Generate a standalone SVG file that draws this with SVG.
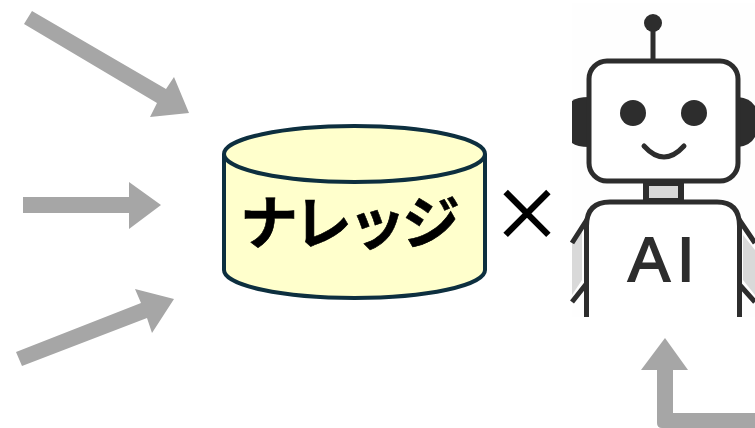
<svg xmlns="http://www.w3.org/2000/svg" width="755" height="428" viewBox="0 0 755 428">
<style>
.arrow{fill:#a6a6a6}
.ln{fill:none;stroke:#2d2d2d;stroke-width:5}
.dark{fill:#2d2d2d}
.cyl{fill:#ffffcc;stroke:#0d2f3f;stroke-width:4}
.cjk{font-family:"Noto Sans CJK JP","Noto Sans",sans-serif}
</style>
<rect width="755" height="428" fill="#ffffff"/>
<g id="connectors">
<polygon class="arrow" points="32,11 24,24 157,103 150,117 189,113 174,77 166,89"/>
<polygon class="arrow" points="23,197 129,197 129,182 161,205 129,229 129,213 23,213"/>
<polygon class="arrow" points="16,352 22,366 147,318 152,333 174,299 135,289 141,303"/>
<path class="arrow" d="M665,338 L688,370 L673,370 L673,413 L755,413 L755,428 L662,428 Q657,428 657,423 L657,370 L641,370 Z"/>
</g>
<g id="knowledge">
<path class="cyl" d="M224,154 V270 A130.500,28 0 0 0 485,270 V154"/>
<ellipse class="cyl" cx="354.500" cy="154" rx="130.500" ry="28"/>
<text class="cjk" x="348" y="244" font-size="58" font-weight="700" letter-spacing="-4" text-anchor="middle" fill="#000000" stroke="#000000" stroke-width="0.600">ナレッジ</text>
</g>
<g id="times">
<text class="cjk" x="527" y="240" font-size="70" text-anchor="middle" fill="#000000" stroke="#000000" stroke-width="1.500">×</text>
</g>
<g id="robot">
<rect x="572" y="3" width="183" height="314" fill="#fefefe"/>
<path class="dark" d="M589,97 Q577,97 572,101 V143 Q577,147 589,147 Z"/>
<path class="dark" d="M738,97 Q750,98 755,106 V137 Q750,146 738,147 Z"/>
<polygon fill="#d9d9d9" points="572,243 582,230 582,280 572,295"/>
<polygon fill="#d9d9d9" points="755,250 743,235 743,280 755,295"/>
<path class="ln" d="M572,243 L588,218 M572,302 L587,283 M755,243 L738,218 M755,302 L738,283"/>
<rect x="646" y="183" width="35" height="18" fill="#d9d9d9" stroke="#2d2d2d" stroke-width="6"/>
<rect x="589" y="61" width="149" height="120" rx="18" fill="#ffffff" stroke="#2d2d2d" stroke-width="5"/>
<path d="M586.500,317 V226 Q586.500,202 610,202 H717 Q739.500,202 739.500,226 V317" fill="#ffffff" stroke="#2d2d2d" stroke-width="5"/>
<path class="ln" d="M653,60 V23"/>
<circle class="dark" cx="653" cy="23" r="9"/>
<circle class="dark" cx="633" cy="113" r="13"/>
<circle class="dark" cx="694" cy="113" r="13"/>
<path d="M644,146 Q664,168 684,146" fill="none" stroke="#2d2d2d" stroke-width="5" stroke-linecap="round"/>
<text x="628 677" y="281" font-family="Liberation Sans, sans-serif" font-size="63" fill="#2d2d2d" stroke="#2d2d2d" stroke-width="1.800">AI</text>
</g>
</svg>
